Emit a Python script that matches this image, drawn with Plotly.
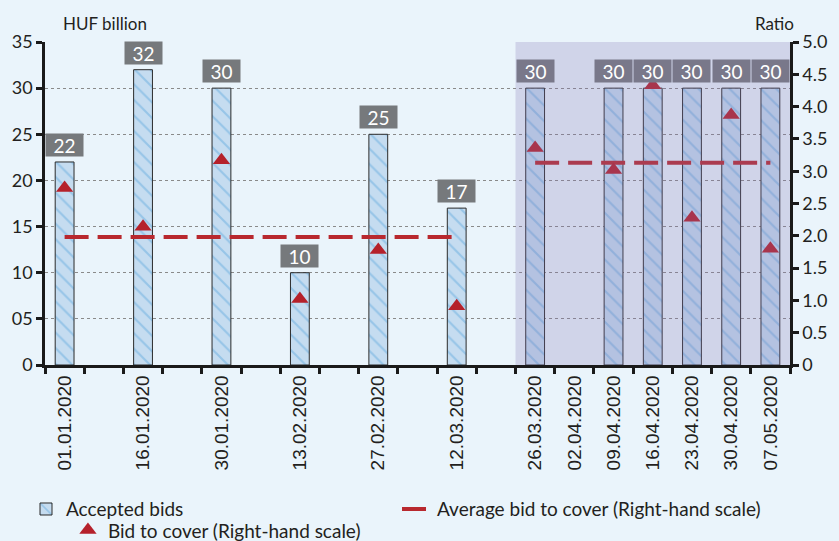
import plotly.graph_objects as go

# ---------------- data ----------------
categories = ["01.01.2020", "08.01.2020", "16.01.2020", "23.01.2020", "30.01.2020",
              "06.02.2020", "13.02.2020", "20.02.2020", "27.02.2020", "05.03.2020",
              "12.03.2020", "19.03.2020", "26.03.2020", "02.04.2020", "09.04.2020",
              "16.04.2020", "23.04.2020", "30.04.2020", "07.05.2020"]
tick_labels = ["01.01.2020", "", "16.01.2020", "", "30.01.2020",
               "", "13.02.2020", "", "27.02.2020", "",
               "12.03.2020", "", "26.03.2020", "02.04.2020", "09.04.2020",
               "16.04.2020", "23.04.2020", "30.04.2020", "07.05.2020"]
accepted_bids = [22, None, 32, None, 30, None, 10, None, 25, None,
                 17, None, 30, None, 30, 30, 30, 30, 30]
bid_to_cover = [2.74, None, 2.14, None, 3.17, None, 1.02, None, 1.78, None,
                0.91, None, 3.36, None, 3.02, 4.33, 2.28, 3.87, 1.80]
avg_bid_to_cover = [1.98, 1.98, 1.98, 1.98, 1.98, 1.98, 1.98, 1.98, 1.98, 1.98,
                    1.98, None, 3.13, 3.13, 3.13, 3.13, 3.13, 3.13, 3.13]
shaded_from = "26.03.2020"
left_ticks = [0, 5, 10, 15, 20, 25, 30, 35]
left_tick_text = ["0", "05", "10", "15", "20", "25", "30", "35"]
right_ticks = [0, 0.5, 1.0, 1.5, 2.0, 2.5, 3.0, 3.5, 4.0, 4.5, 5.0]
right_tick_text = ["0", "0.5", "1.0", "1.5", "2.0", "2.5", "3.0", "3.5", "4.0", "4.5", "5.0"]

# ---------------- style ----------------
BG = "#eaf4fb"
FONT = "Lato"
TXT = "#231f20"
SHADE = (130, 116, 179, 0.25)
LABEL_BG = (118, 121, 124)

fig = go.Figure()

fig.add_trace(go.Bar(
    x=categories, y=accepted_bids, name="Accepted bids", width=0.48,
    marker=dict(color="#c5dcf0", line=dict(color="#2b2b2b", width=1),
                pattern=dict(shape="\\", fgcolor="#6aaedf", bgcolor="#c5dcf0",
                             size=11, solidity=0.2)),
    legend="legend",
))
fig.add_trace(go.Scatter(
    x=categories, y=avg_bid_to_cover, yaxis="y2", mode="lines",
    name="Average bid to cover (Right-hand scale)", connectgaps=False,
    line=dict(color="#b8282e", width=4, dash="24px,9px"),
    legend="legend",
))
fig.add_trace(go.Scatter(
    x=categories, y=bid_to_cover, yaxis="y2", mode="markers",
    name="Bid to cover (Right-hand scale)",
    marker=dict(symbol="triangle-up", size=15, color="#b5212b"),
    legend="legend2",
))

# value labels above bars
shade_idx = categories.index(shaded_from)
def blend(c, s):
    a = s[3]
    return "rgb(%d,%d,%d)" % tuple(round(c[i] * (1 - a) + s[i] * a) for i in range(3))

for i, (c, v) in enumerate(zip(categories, accepted_bids)):
    if v is None:
        continue
    bg = blend(LABEL_BG, SHADE) if i >= shade_idx else "rgb(%d,%d,%d)" % LABEL_BG
    fig.add_annotation(x=c, y=v, xref="x", yref="y", text=str(v), showarrow=False,
                       yanchor="bottom", yshift=5, width=35, height=20,
                       bgcolor=bg, font=dict(family=FONT, size=19, color="white"))

# shaded period
fig.add_shape(type="rect", xref="x", yref="paper",
              x0=shade_idx - 0.5, x1=len(categories) - 0.5, y0=0, y1=1,
              fillcolor="rgba(%d,%d,%d,%s)" % SHADE, line=dict(width=0), layer="above")

fig.add_annotation(text="HUF billion", xref="paper", yref="paper", x=0, y=1,
                   xanchor="center", yanchor="bottom", yshift=6, xshift=60, showarrow=False,
                   font=dict(family=FONT, size=17, color=TXT))
fig.add_annotation(text="Ratio", xref="paper", yref="paper", x=1, y=1,
                   xanchor="center", yanchor="bottom", yshift=6, xshift=-16, showarrow=False,
                   font=dict(family=FONT, size=17, color=TXT))

fig.update_layout(
    width=839, height=541,
    paper_bgcolor=BG, plot_bgcolor=BG,
    margin=dict(l=43, r=39, t=42, b=176),
    bargap=0.5,
    font=dict(family=FONT, color=TXT),
    xaxis=dict(type="category", categoryorder="array", categoryarray=categories,
               tickmode="array", tickvals=categories, ticktext=tick_labels,
               tickson="boundaries", ticks="outside", ticklen=6, tickwidth=2.5,
               tickcolor="#1a1a1a", showline=True, linecolor="#1a1a1a", linewidth=2.5,
               showgrid=False, tickangle=-90,
               tickfont=dict(family="Liberation Sans", size=19, color=TXT),
               range=[-0.5, len(categories) - 0.5]),
    yaxis=dict(range=[0, 35], tickmode="array", tickvals=left_ticks, ticktext=left_tick_text,
               showgrid=True, gridcolor="#8a8a8a", griddash="dot", gridwidth=1,
               zeroline=False, showline=True, linecolor="#1a1a1a", linewidth=2.5,
               ticks="outside", ticklen=6, tickwidth=2.5, tickcolor="#1a1a1a",
               tickfont=dict(family=FONT, size=18, color=TXT)),
    yaxis2=dict(range=[0, 5], overlaying="y", side="right", tickmode="array",
                tickvals=right_ticks, ticktext=right_tick_text, showgrid=False,
                zeroline=False, showline=True, linecolor="#1a1a1a", linewidth=2.5,
                ticks="outside", ticklen=6, tickwidth=2.5, tickcolor="#1a1a1a",
                tickfont=dict(family=FONT, size=18, color=TXT)),
    legend=dict(orientation="h", xref="container", x=0.031, xanchor="left",
                yref="container", y=0.094, yanchor="top",
                bgcolor="rgba(0,0,0,0)", entrywidth=326, traceorder="normal",
                font=dict(family=FONT, size=19, color=TXT)),
    legend2=dict(orientation="h", xref="container", x=0.081, xanchor="left",
                 yref="container", y=0.055, yanchor="top",
                 bgcolor="rgba(0,0,0,0)",
                 font=dict(family=FONT, size=19, color=TXT)),
)

fig.write_html("out.html", config={"displayModeBar": False},
               post_script="document.body.style.margin='0';"
                           "document.body.style.background='%s';"
                           "document.body.style.overflow='hidden';" % BG)
